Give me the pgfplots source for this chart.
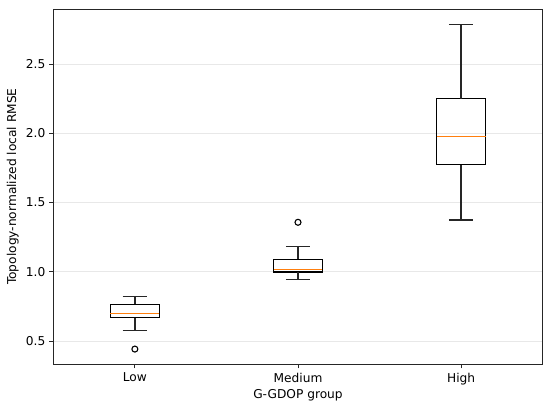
\documentclass[border=0pt]{standalone}
\usepackage{fontspec}
\setmainfont{DejaVu Sans}
\usepackage{pgfplots}
\pgfplotsset{compat=1.18}
\definecolor{mplorange}{HTML}{FF7F0E}
\begin{document}
\begin{tikzpicture}
\path (0,0) rectangle (550bp,406bp);
\begin{axis}[
  at={(53.3bp,41.7bp)}, anchor=south west,
  scale only axis,
  width=489.4bp, height=355.3bp,
  xmin=0.5, xmax=3.5, ymin=0.332, ymax=2.899,
  xtick={1,2,3}, xticklabels={Low,Medium,High},
  ytick={0.5,1.0,1.5,2.0,2.5},
  yticklabels={0.5,1.0,1.5,2.0,2.5},
  xtick pos=bottom, ytick pos=left,
  ymajorgrids, grid style={draw=black!9, line width=0.9bp},
  tick align=outside, major tick length=4bp,
  tick style={black!85, line width=0.9bp},
  axis line style={black!85, line width=0.9bp},
  /pgf/number format/assume math mode=true,
  every tick label/.append style={font=\fontsize{12.2bp}{14bp}\selectfont},
  label style={font=\fontsize{12.2bp}{14bp}\selectfont},
  xlabel={G-GDOP group},
  ylabel={Topology-normalized local RMSE},
  ylabel style={at={(axis description cs:0,0.5)}, anchor=south, yshift=31bp},
  xlabel style={at={(axis description cs:0.5,0)}, anchor=north, yshift=-22bp},
  xticklabel style={yshift=-1bp},
  yticklabel style={xshift=-0.5bp},
  clip=false,
  every axis plot/.append style={line width=1.3bp, mark=none},
]
% Low: lw=0.577, q1=0.668, med=0.700, q3=0.765, uw=0.820, outlier 0.442
\addplot[black] coordinates {(0.85,0.668) (1.15,0.668) (1.15,0.765) (0.85,0.765)} -- cycle;
\addplot[black!85] coordinates {(1,0.668) (1,0.577)};
\addplot[black!85] coordinates {(1,0.765) (1,0.820)};
\addplot[black!85] coordinates {(0.925,0.577) (1.075,0.577)};
\addplot[black!85] coordinates {(0.925,0.820) (1.075,0.820)};
\addplot[mplorange] coordinates {(0.85,0.700) (1.15,0.700)};
% Medium: lw=0.947, q1=0.998, med=1.016, q3=1.090, uw=1.181, outlier 1.358
\addplot[black] coordinates {(1.85,0.998) (2.15,0.998) (2.15,1.090) (1.85,1.090)} -- cycle;
\addplot[black!85] coordinates {(2,0.998) (2,0.947)};
\addplot[black!85] coordinates {(2,1.090) (2,1.181)};
\addplot[black!85] coordinates {(1.925,0.947) (2.075,0.947)};
\addplot[black!85] coordinates {(1.925,1.181) (2.075,1.181)};
\addplot[mplorange] coordinates {(1.85,1.016) (2.15,1.016)};
% High: lw=1.374, q1=1.774, med=1.979, q3=2.251, uw=2.785
\addplot[black] coordinates {(2.85,1.774) (3.15,1.774) (3.15,2.251) (2.85,2.251)} -- cycle;
\addplot[black!85] coordinates {(3,1.774) (3,1.374)};
\addplot[black!85] coordinates {(3,2.251) (3,2.785)};
\addplot[black!85] coordinates {(2.925,1.374) (3.075,1.374)};
\addplot[black!85] coordinates {(2.925,2.785) (3.075,2.785)};
\addplot[mplorange] coordinates {(2.85,1.979) (3.15,1.979)};
% outliers
\addplot[only marks, mark=o, mark size=3bp, mark options={draw=black, line width=1.1bp}]
  coordinates {(1,0.442) (2,1.358)};
\end{axis}
\end{tikzpicture}
\end{document}
